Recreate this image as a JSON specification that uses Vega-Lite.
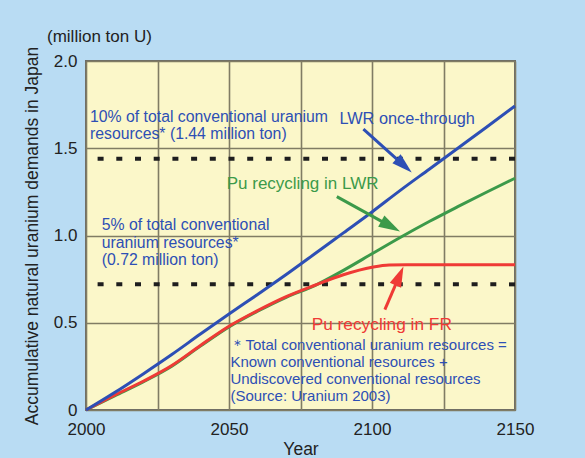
{
  "$schema": "https://vega.github.io/schema/vega-lite/v6.json",
  "width": 429,
  "height": 349,
  "autosize": {"type": "none"},
  "padding": {"left": 86, "top": 61, "right": 70, "bottom": 48},
  "background": "#b9dcf3",
  "config": {
    "font": "Liberation Sans",
    "view": {"fill": "#fbf7c9", "stroke": "#6b6b66", "strokeWidth": 2},
    "axis": {"domain": false, "ticks": false, "labelFlush": false, "gridColor": "#807c64", "gridWidth": 1.6, "gridOpacity": 1, "labelFont": "Liberation Sans", "labelFontSize": 17, "labelColor": "#222222", "titleFont": "Liberation Sans", "titleFontSize": 17.5, "titleFontWeight": "normal", "titleColor": "#222222"}
  },
  "title": {"text": "(million ton U)", "anchor": "start", "frame": "group", "dx": -39, "offset": 0, "fontSize": 17, "fontWeight": "normal", "color": "#222222", "font": "Liberation Sans"},
  "datasets": {
    "lines": [
      {"s": "green", "year": 2000, "v": 0}, {"s": "green", "year": 2010, "v": 0.081}, {"s": "green", "year": 2020, "v": 0.161}, {"s": "green", "year": 2030, "v": 0.251}, {"s": "green", "year": 2040, "v": 0.366}, {"s": "green", "year": 2050, "v": 0.476}, {"s": "green", "year": 2060, "v": 0.566}, {"s": "green", "year": 2070, "v": 0.646}, {"s": "green", "year": 2080, "v": 0.713}, {"s": "green", "year": 2090, "v": 0.8}, {"s": "green", "year": 2100, "v": 0.895}, {"s": "green", "year": 2110, "v": 0.99}, {"s": "green", "year": 2120, "v": 1.08}, {"s": "green", "year": 2130, "v": 1.165}, {"s": "green", "year": 2140, "v": 1.248}, {"s": "green", "year": 2150, "v": 1.328},
      {"s": "red", "year": 2000, "v": 0}, {"s": "red", "year": 2010, "v": 0.085}, {"s": "red", "year": 2020, "v": 0.165}, {"s": "red", "year": 2030, "v": 0.255}, {"s": "red", "year": 2040, "v": 0.37}, {"s": "red", "year": 2050, "v": 0.48}, {"s": "red", "year": 2060, "v": 0.57}, {"s": "red", "year": 2070, "v": 0.65}, {"s": "red", "year": 2080, "v": 0.715}, {"s": "red", "year": 2090, "v": 0.775}, {"s": "red", "year": 2100, "v": 0.818}, {"s": "red", "year": 2106, "v": 0.831}, {"s": "red", "year": 2112, "v": 0.832}, {"s": "red", "year": 2150, "v": 0.832},
      {"s": "blue", "year": 2000, "v": 0}, {"s": "blue", "year": 2010, "v": 0.1}, {"s": "blue", "year": 2020, "v": 0.207}, {"s": "blue", "year": 2030, "v": 0.318}, {"s": "blue", "year": 2040, "v": 0.435}, {"s": "blue", "year": 2050, "v": 0.55}, {"s": "blue", "year": 2060, "v": 0.662}, {"s": "blue", "year": 2070, "v": 0.776}, {"s": "blue", "year": 2080, "v": 0.895}, {"s": "blue", "year": 2090, "v": 1.015}, {"s": "blue", "year": 2100, "v": 1.135}, {"s": "blue", "year": 2110, "v": 1.26}, {"s": "blue", "year": 2120, "v": 1.38}, {"s": "blue", "year": 2130, "v": 1.5}, {"s": "blue", "year": 2140, "v": 1.62}, {"s": "blue", "year": 2150, "v": 1.742}
    ],
    "limits": [{"v": 1.44}, {"v": 0.72}],
    "arrows": [
      {"a": "blue", "x1": 2097, "y1": 1.609, "x2": 2111.3, "y2": 1.399, "tx": 2113.9, "ty": 1.361},
      {"a": "green", "x1": 2087.7, "y1": 1.223, "x2": 2106.7, "y2": 1.051, "tx": 2109.8, "ty": 1.023},
      {"a": "red", "x1": 2104.5, "y1": 0.575, "x2": 2109.6, "y2": 0.77, "tx": 2111, "ty": 0.823}
    ],
    "labels": [
      {"c": "blue", "size": 15.8, "lh": 20, "year": 2001.4, "v": 1.681, "t": "10% of total conventional uranium\nresources* (1.44 million ton)"},
      {"c": "blue", "size": 15.8, "lh": 20, "year": 2005.5, "v": 1.061, "t": "5% of total conventional\nuranium resources*\n(0.72 million ton)"},
      {"c": "blue", "size": 16.3, "lh": 20, "year": 2088.6, "v": 1.666, "t": "LWR once-through"},
      {"c": "green", "size": 17, "lh": 20, "year": 2049.2, "v": 1.294, "t": "Pu recycling in LWR"},
      {"c": "red", "size": 17.3, "lh": 20, "year": 2078.9, "v": 0.489, "t": "Pu recycling in FR"},
      {"c": "blue", "size": 15, "lh": 17.6, "year": 2050.5, "v": 0.375, "t": "＊Total conventional uranium resources =\nKnown conventional resources +\nUndiscovered conventional resources\n(Source: Uranium 2003)"}
    ]
  },
  "layer": [
    {
      "data": {"name": "limits"},
      "mark": {"type": "rule", "color": "#1e1e1e", "strokeWidth": 4, "strokeDash": [6, 12.7]},
      "encoding": {
        "y": {"field": "v", "type": "quantitative", "scale": {"domain": [0, 2]},
          "axis": {"values": [0, 0.5, 1, 1.5, 2], "labelExpr": "datum.value == 0 ? '0' : format(datum.value, '.1f')", "labelPadding": 9, "title": "Accumulative natural uranium demands in Japan", "titlePadding": 12}}
      }
    },
    {
      "data": {"name": "lines"},
      "mark": {"type": "line", "strokeWidth": 3, "interpolate": "monotone"},
      "encoding": {
        "x": {"field": "year", "type": "quantitative", "scale": {"domain": [2000, 2150], "nice": false},
          "axis": {"values": [2000, 2025, 2050, 2075, 2100, 2125, 2150], "labelExpr": "datum.value % 50 == 0 ? datum.label : ''", "format": "d", "labelPadding": 11, "title": "Year", "titlePadding": 3}},
        "y": {"field": "v", "type": "quantitative"},
        "color": {"field": "s", "type": "nominal", "scale": {"domain": ["green", "red", "blue"], "range": ["#3c9a4a", "#ef3a35", "#2d4fb5"]}, "legend": null},
        "order": {"field": "year"},
        "detail": {"field": "s"}
      }
    },
    {
      "data": {"name": "arrows"},
      "mark": {"type": "rule", "strokeWidth": 3},
      "encoding": {
        "x": {"field": "x1", "type": "quantitative"},
        "y": {"field": "y1", "type": "quantitative"},
        "x2": {"field": "x2"},
        "y2": {"field": "y2"},
        "color": {"field": "a", "type": "nominal", "scale": {"domain": ["green", "red", "blue"], "range": ["#3c9a4a", "#ef3a35", "#2d4fb5"]}, "legend": null}
      }
    },
    {
      "data": {"name": "arrows"},
      "transform": [{"filter": "datum.a == 'blue'"}],
      "mark": {"type": "point", "filled": true, "opacity": 1, "shape": "M0,0L-0.6,2L0.6,2Z", "size": 420, "angle": 132, "color": "#2d4fb5"},
      "encoding": {"x": {"field": "tx", "type": "quantitative"}, "y": {"field": "ty", "type": "quantitative"}}
    },
    {
      "data": {"name": "arrows"},
      "transform": [{"filter": "datum.a == 'green'"}],
      "mark": {"type": "point", "filled": true, "opacity": 1, "shape": "M0,0L-0.6,2L0.6,2Z", "size": 460, "angle": 119, "color": "#3c9a4a"},
      "encoding": {"x": {"field": "tx", "type": "quantitative"}, "y": {"field": "ty", "type": "quantitative"}}
    },
    {
      "data": {"name": "arrows"},
      "transform": [{"filter": "datum.a == 'red'"}],
      "mark": {"type": "point", "filled": true, "opacity": 1, "shape": "M0,0L-0.6,2L0.6,2Z", "size": 420, "angle": 23, "color": "#ef3a35"},
      "encoding": {"x": {"field": "tx", "type": "quantitative"}, "y": {"field": "ty", "type": "quantitative"}}
    },
    {
      "data": {"name": "labels"},
      "mark": {"type": "text", "align": "left", "baseline": "middle", "lineBreak": "\n", "font": "Liberation Sans"},
      "encoding": {
        "x": {"field": "year", "type": "quantitative"},
        "y": {"field": "v", "type": "quantitative"},
        "text": {"field": "t"},
        "size": {"field": "size", "type": "quantitative", "scale": null},
        "lineHeight": {"field": "lh", "type": "quantitative", "scale": null},
        "color": {"field": "c", "type": "nominal", "scale": {"domain": ["blue", "green", "red"], "range": ["#2f4fa6", "#3a9848", "#ee3333"]}, "legend": null}
      }
    }
  ]
}
